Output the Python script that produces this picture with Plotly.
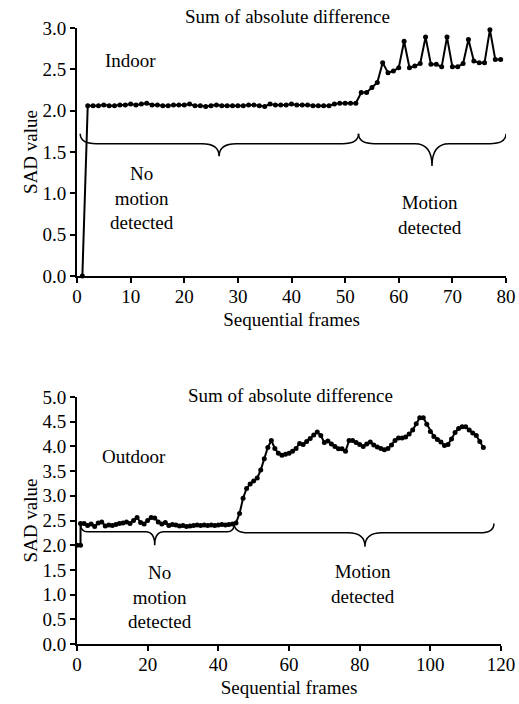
import plotly.graph_objects as go

W, H = 519, 704

# ---------------- data ----------------
indoor_frames = list(range(1, 80))
indoor_sad = [
    0.00,
    2.06, 2.06, 2.06, 2.07, 2.06, 2.06, 2.07, 2.07, 2.08, 2.07,
    2.08, 2.09, 2.07, 2.07, 2.06, 2.06, 2.07, 2.07, 2.07, 2.08,
    2.06, 2.06, 2.05, 2.06, 2.07, 2.06, 2.06, 2.06, 2.06, 2.06,
    2.07, 2.07, 2.06, 2.05, 2.08, 2.07, 2.07, 2.07, 2.08, 2.07,
    2.07, 2.07, 2.06, 2.06, 2.06, 2.06, 2.08, 2.09, 2.09, 2.09,
    2.09,
    2.22, 2.22, 2.28, 2.34, 2.58, 2.46, 2.48, 2.52, 2.84, 2.52,
    2.54, 2.57, 2.89, 2.56, 2.56, 2.53, 2.89, 2.53, 2.53, 2.57,
    2.86, 2.60, 2.58, 2.58, 2.98, 2.62, 2.62,
]

outdoor_frames = [0, 1] + list(range(1, 116))
outdoor_sad = [
    2.00, 2.00,
    2.44, 2.44, 2.40, 2.43, 2.38, 2.45, 2.47, 2.39, 2.41, 2.40,
    2.42, 2.44, 2.45, 2.47, 2.44, 2.50, 2.56, 2.46, 2.43, 2.50,
    2.56, 2.55, 2.47, 2.43, 2.46, 2.40, 2.42, 2.41, 2.39, 2.40,
    2.38, 2.39, 2.40, 2.41, 2.40, 2.41, 2.40, 2.41, 2.40, 2.41,
    2.42, 2.41, 2.42, 2.43,
    2.45, 2.64, 2.95, 3.15, 3.24, 3.30, 3.36, 3.52, 3.75, 3.98,
    4.12, 3.96, 3.86, 3.82, 3.84, 3.86, 3.90, 3.96, 4.06, 4.04,
    4.10, 4.16, 4.23, 4.29, 4.22, 4.08, 4.11, 4.05, 4.00, 3.95,
    3.95, 3.90, 4.12, 4.12, 4.08, 4.04, 4.00, 4.05, 4.09, 4.03,
    3.99, 3.96, 3.93, 3.96, 4.03, 4.12, 4.17, 4.17, 4.19, 4.25,
    4.33, 4.46, 4.58, 4.58, 4.45, 4.30, 4.20, 4.14, 4.09, 4.02,
    4.04, 4.15, 4.28, 4.36, 4.40, 4.40, 4.33, 4.27, 4.22, 4.10,
    3.98,
]

# braces: (start, end, middle, level, end height, tip, end curve, tip curve)
indoor_braces = [
    (0.6, 52.5, 26.5, 1.60, 1.72, 1.45, 3.0, 3.2),
    (52.5, 80.0, 66.2, 1.60, 1.72, 1.33, 3.0, 3.2),
]
outdoor_braces = [
    (1.0, 44.5, 22.0, 2.27, 2.44, 2.00, 2.0, 2.6),
    (44.5, 118.0, 81.5, 2.25, 2.44, 1.97, 4.0, 4.8),
]

title_text = "Sum of absolute difference"
x_title = "Sequential frames"
y_title = "SAD value"
region_labels = ["No<br>motion<br>detected", "Motion<br>detected"]

FONT = "Liberation Serif"
FS = 19

# ---------------- geometry (pixels) ----------------
ML, MR, MT, MB = 77, 13, 28, 60
PW, PH = W - ML - MR, H - MT - MB


def px_x(p):
    return (p - ML) / PW


def px_y(p):
    return (H - MB - p) / PH


fig = go.Figure()

fig.add_trace(go.Scatter(
    x=indoor_frames, y=indoor_sad, mode="lines+markers",
    line=dict(color="black", width=2), marker=dict(color="black", size=5),
    xaxis="x", yaxis="y", showlegend=False, cliponaxis=False,
))
fig.add_trace(go.Scatter(
    x=outdoor_frames, y=outdoor_sad, mode="lines+markers",
    line=dict(color="black", width=2), marker=dict(color="black", size=5),
    xaxis="x2", yaxis="y2", showlegend=False, cliponaxis=False,
))


def brace_path(b):
    x0, x1, m, lv, ye, tip, de, dt = b
    return (f"M {x0},{ye} Q {x0},{lv} {x0+de},{lv} "
            f"L {m-dt},{lv} Q {m},{lv} {m},{tip} "
            f"Q {m},{lv} {m+dt},{lv} "
            f"L {x1-de},{lv} Q {x1},{lv} {x1},{ye}")


shapes = []
for b in indoor_braces:
    shapes.append(dict(type="path", path=brace_path(b), xref="x", yref="y",
                       line=dict(color="black", width=1.5)))
for b in outdoor_braces:
    shapes.append(dict(type="path", path=brace_path(b), xref="x2", yref="y2",
                       line=dict(color="black", width=1.5)))

axis_common = dict(
    showline=True, linecolor="black", linewidth=2, ticks="outside",
    ticklen=5, tickwidth=2, tickcolor="black", showgrid=False, zeroline=False,
    automargin=False,
    tickfont=dict(family=FONT, size=FS, color="black"),
    title_font=dict(family=FONT, size=FS, color="black"),
)
x_common = dict(ticklabelstandoff=-3, title=dict(text=x_title, standoff=7))
y_common = dict(tickformat=".1f", dtick=0.5, title=dict(text=y_title, standoff=0))

fig.update_layout(
    width=W, height=H,
    margin=dict(l=ML, r=MR, t=MT, b=MB, autoexpand=False),
    paper_bgcolor="white", plot_bgcolor="white",
    font=dict(family=FONT, size=FS, color="black"),
    xaxis=dict(domain=[px_x(77), px_x(506)], range=[0, 80], dtick=10,
               anchor="y", **x_common, **axis_common),
    yaxis=dict(domain=[px_y(276), px_y(28)], range=[0, 3.0], anchor="x",
               **y_common, **axis_common),
    xaxis2=dict(domain=[px_x(77), px_x(501)], range=[0, 120], dtick=20,
                anchor="y2", **x_common, **axis_common),
    yaxis2=dict(domain=[px_y(644), px_y(397)], range=[0, 5.0], anchor="x2",
                **y_common, **axis_common),
    shapes=shapes,
)

ann = [
    dict(text=title_text, x=px_x(287), y=px_y(16)),
    dict(text="Indoor", x=px_x(130), y=px_y(60)),
    dict(text=region_labels[0], x=px_x(142), y=px_y(198)),
    dict(text=region_labels[1], x=px_x(430), y=px_y(215)),
    dict(text=title_text, x=px_x(290), y=px_y(395)),
    dict(text="Outdoor", x=px_x(134), y=px_y(456)),
    dict(text=region_labels[0], x=px_x(160), y=px_y(597)),
    dict(text=region_labels[1], x=px_x(363), y=px_y(584)),
]
for a in ann:
    fig.add_annotation(xref="paper", yref="paper", showarrow=False,
                       xanchor="center", yanchor="middle",
                       font=dict(family=FONT, size=FS, color="black"), **a)

fig.write_html("out.html", config=dict(displayModeBar=False),
               post_script="document.body.style.margin='0';")
